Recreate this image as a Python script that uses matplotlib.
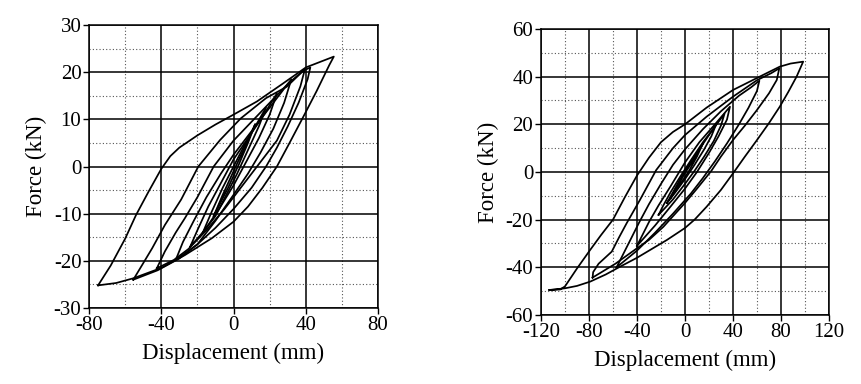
import matplotlib.pyplot as plt
from matplotlib.ticker import MultipleLocator

plt.rcParams['font.family'] = ['Liberation Serif', 'DejaVu Serif']
plt.rcParams['axes.unicode_minus'] = False

# left specimen: hysteresis loops (displacement mm, force kN)
left_loops = [
    ([-75, -73, -68, -60, -54, -47, -40, -35, -30, -20, -10, 0, 13, 27, 40, 55.5,
      53, 46, 38.7, 31, 24, 16, 8, 0, -12, -27, -40, -55.5, -65, -75],
     [-25.2, -24, -21, -15.3, -10.3, -5.3, -0.5, 2.2, 4, 6.6, 8.9, 11, 13.8, 17.5, 21, 23.3,
      21.5, 16, 10.6, 5, 0, -4.5, -8.5, -11.7, -15.2, -18.8, -21.5, -23.7, -24.7, -25.2]),
    ([-55.5, -50, -45, -38, -29, -19.5, -7.5, 4, 18, 29.4, 38.6, 42.5,
      41, 36, 30, 24, 18, 10, 0, -10, -20, -30, -42, -55.5],
     [-24, -20.5, -17.3, -12.4, -7, 0, 5.6, 10.2, 14.5, 16.9, 20.3, 21,
      18.5, 13.5, 8.5, 4, 0, -4.5, -9, -13, -16.5, -19.5, -22, -24]),
    ([-42.5, -38, -32, -27, -20, -11, 0, 10, 20, 30, 39.5,
      37, 31, 24, 13, 5, -5, -15, -25, -33, -42.5],
     [-21.6, -18, -14, -11, -6.5, 0, 5.5, 9.5, 13.5, 17.5, 20.6,
      17, 11, 5.5, 0, -4, -9, -13.5, -17.5, -19.8, -21.6]),
    ([-32, -28, -22, -15, -7, 0, 10, 20, 32, 28, 22, 15, 8, 0, -10, -20, -32],
     [-19.8, -16, -11.5, -6.5, -1.5, 2.5, 7.5, 12.5, 18.5, 13.5, 8, 3, -1.5, -6, -11.5, -16.5, -19.8]),
    ([-24, -20, -14, -7, 0, 8, 16, 24, 20, 14, 7, 0, -8, -16, -24],
     [-17, -13.5, -8.5, -3.5, 1.5, 6, 10.5, 15.5, 11, 6, 1, -4, -9, -13.5, -17]),
    ([-17, -12, -6, 0, 6, 12, 18, 14, 8, 2, -4, -10, -17],
     [-14, -9.5, -4.5, 0, 4.5, 8.5, 12.5, 8.5, 3.5, -1.5, -6, -10.5, -14]),
    ([-11, -6, 0, 6, 12, 8, 3, -3, -11],
     [-10.5, -6, -1, 4, 9, 5, 0.5, -4.5, -10.5]),
]

# right specimen
right_loops = [
    ([-113, -104, -100, -90, -79, -70, -60, -50, -40, -30, -20, -10, 0, 18, 40, 65, 79, 88, 98.5,
      93, 86, 79, 70, 60, 50, 40, 30, 18, 8, 0, -15, -29, -40, -54, -66, -79, -90, -100, -113],
     [-49.5, -49.3, -48, -40.5, -32.7, -26.5, -20, -10.5, -1.5, 6, 12.5, 16.8, 20, 27, 34.4, 40.7, 44.2, 45.5, 46.3,
      40, 33.5, 27.4, 20.5, 13.4, 6.5, -0.6, -7.5, -14.6, -20, -23.5, -28.5, -32.7, -36, -39.7, -43, -46, -47.8, -48.8, -49.5]),
    ([-77, -76.5, -72, -61, -55, -48.6, -37.5, -24, -10, 0, 18, 40, 60, 72, 78.6,
      76.5, 70, 60, 50, 40, 30, 22, 10, 0, -18, -30, -40, -58, -77],
     [-44.3, -42, -38.5, -33.4, -27.5, -21.5, -11.7, 0.8, 10, 15.5, 23.2, 31.6, 38.5, 41.5, 43.5,
      38.6, 33, 26, 19.5, 13.4, 6.5, 0.5, -7, -13, -23, -28.5, -32, -38.5, -44.3]),
    ([-57, -52, -45, -38, -30, -20, -10, 0, 15, 30, 45, 55, 62,
      60, 53, 45, 35, 25, 15, 5, -10, -25, -40, -57],
     [-40, -35, -28, -21, -13.5, -5, 3, 9.5, 18, 25.5, 32, 35.5, 38.3,
      34, 27, 20, 12, 4.5, -2.5, -9, -17.5, -25.5, -33, -40]),
    ([-40, -36, -30, -22, -12, 0, 12, 25, 37.5, 35, 28, 20, 10, 0, -12, -25, -40],
     [-31, -27, -21, -14, -6, 4, 12.5, 20, 27.4, 22, 15, 8, 0, -7, -14.5, -22.5, -31]),
    ([-22, -18, -12, -4, 5, 15, 25, 33, 30, 24, 16, 8, 0, -10, -22],
     [-18, -14, -8.5, -2, 5, 12.5, 19, 24.5, 19.5, 13, 6.5, 0.5, -5, -11.5, -18]),
    ([-15, -10, -4, 4, 12, 20, 26, 22, 16, 8, 0, -8, -15],
     [-13, -8.5, -3, 3.5, 9.5, 15.5, 20, 15, 9.5, 3, -3, -8.5, -13]),
    ([-12, -7, 0, 7, 15, 10, 4, -3, -12],
     [-11, -6.5, -0.5, 5, 12, 6.5, 1, -4.5, -11]),
]

fig = plt.figure(figsize=(8.61, 3.84), dpi=100)
ax1 = fig.add_axes([0.1034, 0.1979, 0.3357, 0.737])
ax2 = fig.add_axes([0.6283, 0.1797, 0.3345, 0.7448])


def style(ax, xlim, ylim, xmaj, ymaj):
    ax.set_xlim(*xlim)
    ax.set_ylim(*ylim)
    ax.xaxis.set_major_locator(MultipleLocator(xmaj))
    ax.yaxis.set_major_locator(MultipleLocator(ymaj))
    ax.xaxis.set_minor_locator(MultipleLocator(xmaj / 2))
    ax.yaxis.set_minor_locator(MultipleLocator(ymaj / 2))
    ax.grid(which='major', color='black', lw=1.1)
    ax.grid(which='minor', color='#555555', lw=0.8, ls=(0, (1, 2)))
    ax.set_axisbelow(True)
    ax.tick_params(which='major', direction='out', length=4, width=1, pad=1.5,
                   labelsize=15, colors='black')
    ax.tick_params(which='minor', length=0)
    for s in ax.spines.values():
        s.set_linewidth(1.1)
    ax.set_xlabel('Displacement (mm)', fontsize=16.5, labelpad=6)
    ax.set_ylabel('Force (kN)', fontsize=16.5, labelpad=5)


for xs, ys in left_loops:
    ax1.plot(xs, ys, color='black', lw=1.25, solid_joinstyle='round')
for xs, ys in right_loops:
    ax2.plot(xs, ys, color='black', lw=1.25, solid_joinstyle='round')

style(ax1, (-80, 80), (-30, 30), 40, 10)
ax1.xaxis.set_minor_locator(MultipleLocator(20))
ax1.yaxis.set_minor_locator(MultipleLocator(5))
style(ax2, (-120, 120), (-60, 60), 40, 20)

fig.savefig('out.png', dpi=100)
